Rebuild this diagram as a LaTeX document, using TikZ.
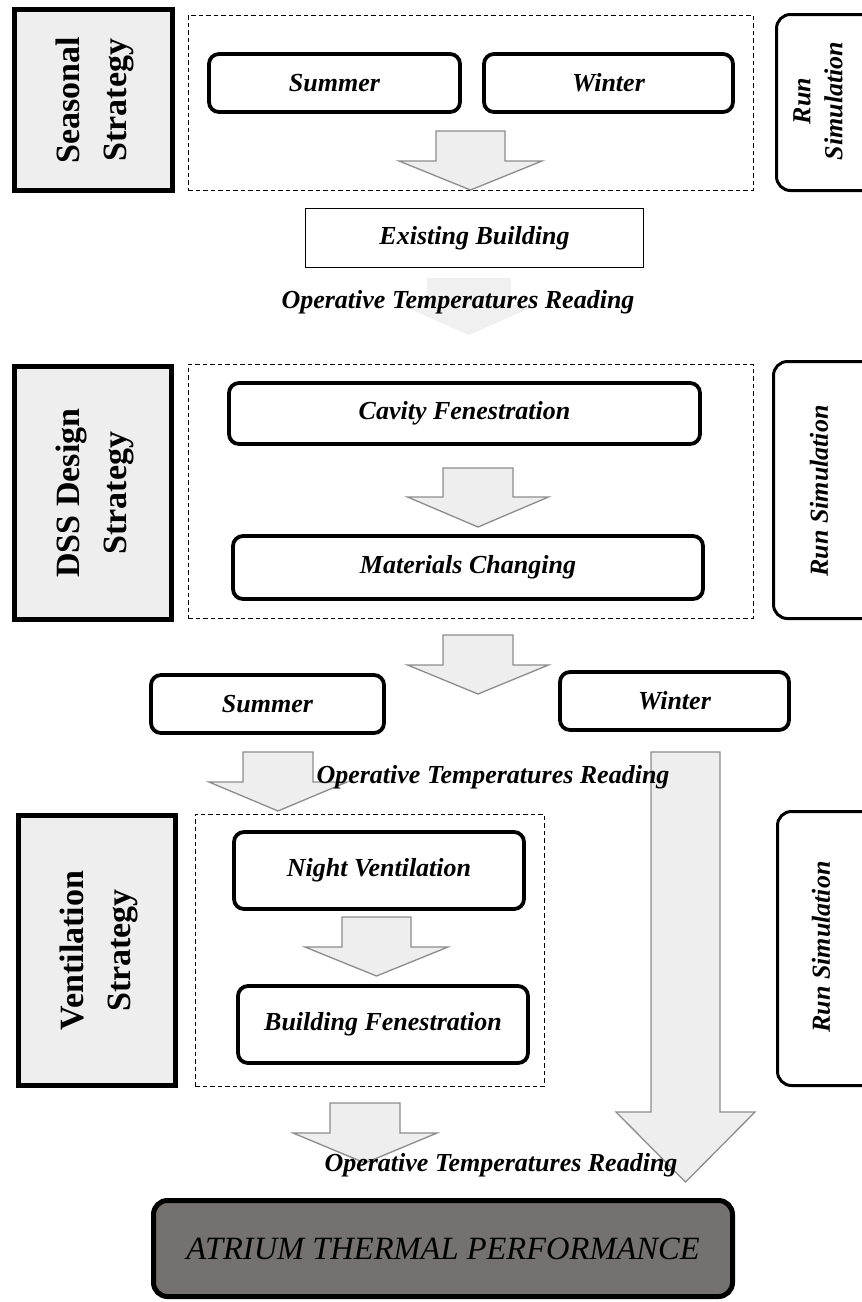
\documentclass[tikz,border=0pt]{standalone}
\usepackage{fontspec}
\setmainfont{Liberation Serif}
\definecolor{boxgray}{HTML}{EEEEEE}
\definecolor{arrgray}{HTML}{EEEEEE}
\definecolor{arredge}{HTML}{8C8C8C}
\definecolor{faintarr}{HTML}{F0F0F0}
\definecolor{darkfill}{HTML}{767171}
\tikzset{
  stratbox/.style={draw, line width=5pt, fill=boxgray, inner sep=0pt, outer sep=0pt},
  groupbox/.style={draw, line width=0.9pt, dash pattern=on 4.5pt off 3pt, inner sep=0pt, outer sep=0pt},
  itembox/.style={draw, line width=3.8pt, rounded corners=10pt, fill=white, inner sep=0pt, outer sep=0pt, font=\fontsize{26}{30}\selectfont\bfseries\itshape},
  runbox/.style={draw, line width=3pt, rounded corners=14pt, inner sep=0pt, outer sep=0pt},
  plainbox/.style={draw, line width=1.5pt, fill=white, inner sep=0pt, outer sep=0pt, font=\fontsize{26}{30}\selectfont\bfseries\itshape},
  finalbox/.style={draw, line width=5pt, rounded corners=14pt, fill=darkfill, inner sep=0pt, outer sep=0pt, font=\fontsize{32.5}{38}\selectfont\itshape},
  itemtext/.style={font=\fontsize{26}{30}\selectfont\bfseries\itshape, inner sep=0pt},
  runtext/.style={font=\fontsize{26}{32}\selectfont\bfseries\itshape, align=center, rotate=90, inner sep=0pt},
  strattext/.style={font=\fontsize{34}{47}\selectfont\bfseries, align=center, rotate=90, inner sep=0pt},
  blockarrow/.style={draw=arredge, fill=arrgray, line width=1.3pt, line join=miter},
  faintarrow/.style={fill=faintarr, draw=none},
}
% style, name, x1, y1, x2, y2, text
\newcommand\rectnode[7]{\node[#1, minimum width={#5-#3}, minimum height={#6-#4}] (#2) at ({(#3+#5)/2},{(#4+#6)/2}) {#7};}
% style, cx, ytop, yhead, ytip, shaft half, head half
\newcommand\blockarr[7]{\draw[#1] ({#2-#6},#3) -- ({#2+#6},#3) -- ({#2+#6},#4) -- ({#2+#7},#4) -- (#2,#5) -- ({#2-#7},#4) -- ({#2-#6},#4) -- cycle;}
\begin{document}
\begin{tikzpicture}[x=1pt,y=-1pt]
\useasboundingbox (0,0) rectangle (862,1302);
\fill[white] (0,0) rectangle (862,1302);

% ---- block arrows (drawn beneath boxes and labels)
\blockarr{blockarrow}{470.5}{131}{161}{190}{34.5}{71.5}
\blockarr{faintarrow}{469}{278}{305}{335}{42}{68}
\blockarr{blockarrow}{478}{468}{497}{527}{35}{70.5}
\blockarr{blockarrow}{478}{635}{665}{694}{35}{70.5}
\blockarr{blockarrow}{278}{752}{782}{811}{35}{69}
\blockarr{blockarrow}{685.5}{752}{1112}{1182}{34.5}{69.5}
\blockarr{blockarrow}{376.5}{917}{947}{976}{34.5}{71.5}
\blockarr{blockarrow}{365}{1103}{1133}{1163}{35}{72}

% ---- Seasonal strategy
\rectnode{stratbox}{seas}{14.5}{9.5}{172}{190.5}{}
\node[strattext] (seast) at ([xshift=2pt]seas.center) {Seasonal\\Strategy};
\rectnode{groupbox}{grp1}{188}{15}{753}{190}{}
\rectnode{itembox}{sum1}{209}{54}{460}{112}{Summer}
\rectnode{itembox}{win1}{484}{54}{733}{112}{Winter}
\rectnode{runbox}{run1}{776.5}{14.5}{885}{190.5}{}
\node[runtext] (run1t) at (818,101) {Run\\Simulation};

\rectnode{plainbox}{exist}{305.5}{208.5}{643.5}{267.5}{Existing Building}
\node[itemtext] (op1) at (458,302) {Operative Temperatures Reading};

% ---- DSS design strategy
\rectnode{stratbox}{dss}{14.5}{366.5}{171}{619.5}{}
\node[strattext] (dsst) at ([xshift=2pt]dss.center) {DSS Design\\Strategy};
\rectnode{groupbox}{grp2}{188}{364}{753}{618}{}
\rectnode{itembox}{cav}{229}{383}{700}{444}{Cavity Fenestration}
\rectnode{itembox}{mat}{233}{536}{703}{599}{Materials Changing}
\rectnode{runbox}{run2}{773.5}{361.5}{885}{618.5}{}
\node[runtext] (run2t) at (819,491) {Run Simulation};

% ---- seasons split
\rectnode{itembox}{sum2}{151}{675}{384}{733}{Summer}
\rectnode{itembox}{win2}{560}{672}{789}{730}{Winter}
\node[itemtext] (op2) at (493,777) {Operative Temperatures Reading};

% ---- Ventilation strategy
\rectnode{stratbox}{vent}{18.5}{815.5}{175}{1085.5}{}
\node[strattext] (ventt) at ([xshift=2pt]vent.center) {Ventilation\\Strategy};
\rectnode{groupbox}{grp3}{195}{814}{544}{1086}{}
\rectnode{itembox}{night}{234}{832}{524}{909}{Night Ventilation}
\rectnode{itembox}{bfen}{238}{986}{528}{1063}{Building Fenestration}
\rectnode{runbox}{run3}{777.5}{811.5}{885}{1085.5}{}
\node[runtext] (run3t) at (821,947) {Run Simulation};

\node[itemtext] (op3) at (501,1165) {Operative Temperatures Reading};

% ---- result
\rectnode{finalbox}{atrium}{153.5}{1200.5}{732.5}{1296.5}{ATRIUM THERMAL PERFORMANCE}
\end{tikzpicture}
\end{document}
